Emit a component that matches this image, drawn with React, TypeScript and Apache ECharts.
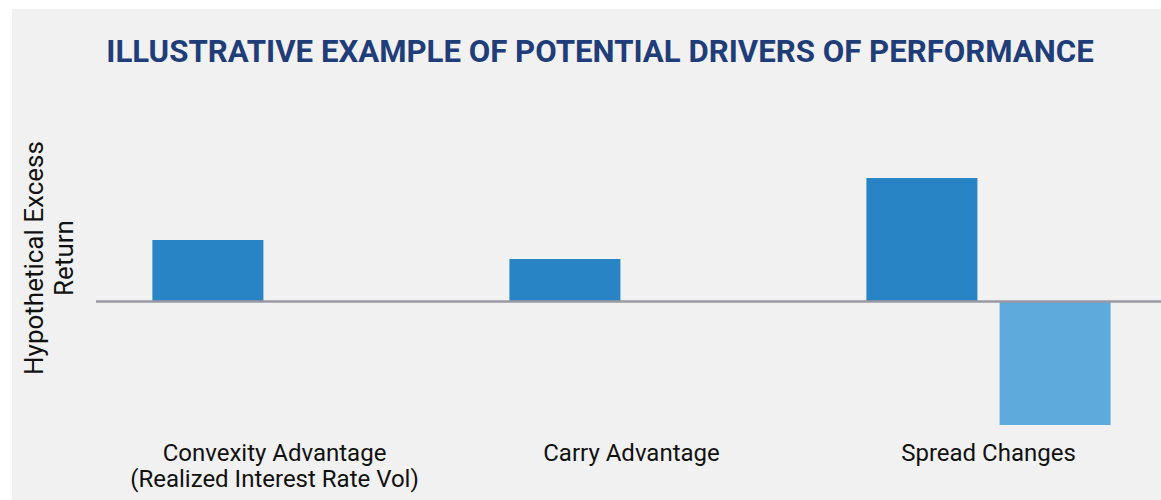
import React, { useEffect, useRef } from "react";
import * as echarts from "echarts";

const titleText = "ILLUSTRATIVE EXAMPLE OF POTENTIAL DRIVERS OF PERFORMANCE";
const categories = ["Convexity Advantage\n(Realized Interest Rate Vol)", "Carry Advantage", "Spread Changes"];
const positiveDrivers = [61, 42, 123];
const negativeDrivers = [null, null, -124];
const yAxisName = "Hypothetical Excess\nReturn";

export default function App() {
  const ref = useRef<HTMLDivElement>(null);
  useEffect(() => {
    if (!ref.current) return;
    const chart = echarts.init(ref.current, undefined, { renderer: "svg" });
    chart.setOption({
      animation: false,
      backgroundColor: "#ffffff",
      graphic: [
        {
          type: "rect",
          z: -10,
          shape: { x: 12, y: 9, width: 1149, height: 491 },
          style: { fill: "#f1f1f1" },
          silent: true,
        },
      ],
      title: {
        text: titleText,
        left: 595,
        top: 31,
        textAlign: "center",
        textStyle: {
          fontFamily: "Roboto",
          fontWeight: "bold",
          fontSize: 31.2,
          color: "#1f3d79",
        },
      },
      grid: {
        left: 96,
        width: 1071,
        top: 80,
        bottom: 64,
        containLabel: false,
        outerBoundsMode: "none",
      },
      xAxis: {
        type: "category",
        data: categories,
        axisLine: { show: false, onZero: false },
        axisTick: { show: false },
        axisLabel: {
          interval: 0,
          margin: 4,
          fontFamily: "Roboto",
          fontSize: 24,
          lineHeight: 26,
          color: "#111111",
        },
      },
      yAxis: {
        type: "value",
        min: -135,
        max: 221,
        axisLine: { show: false },
        axisTick: { show: false },
        axisLabel: { show: false },
        splitLine: { show: false },
        name: yAxisName,
        nameLocation: "middle",
        nameRotate: 90,
        nameGap: 17,
        nameTextStyle: {
          fontFamily: "Roboto",
          fontSize: 26,
          lineHeight: 30,
          color: "#111111",
        },
      },
      series: [
        {
          type: "bar",
          data: positiveDrivers,
          barGap: "20%",
          barCategoryGap: "31.6%",
          itemStyle: { color: "#2884c4" },
          markLine: {
            silent: true,
            symbol: ["none", "none"],
            label: { show: false },
            lineStyle: { color: "#9a99a2", width: 2.5, type: "solid" },
            data: [{ yAxis: 0 }],
            z: 5,
          },
        },
        {
          type: "bar",
          data: negativeDrivers,
          barGap: "20%",
          barCategoryGap: "31.6%",
          itemStyle: { color: "#5eaadd" },
        },
      ],
    });
    return () => chart.dispose();
  }, []);
  return (
    <div
      ref={ref}
      style={{ position: "absolute", left: 0, top: 0, width: 1161, height: 500 }}
    />
  );
}
